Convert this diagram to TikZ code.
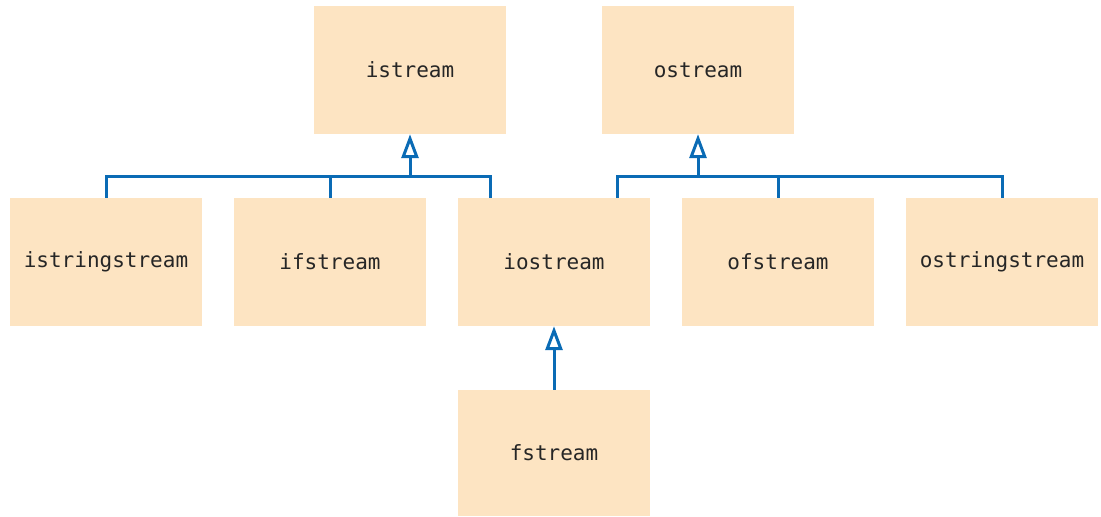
\documentclass[tikz,border=0pt]{standalone}
\usepackage{fontspec}
\setmonofont{DejaVu Sans Mono}
\usetikzlibrary{arrows.meta}
\definecolor{boxfill}{HTML}{FDE4C2}
\definecolor{linkblue}{HTML}{0A6BB5}
\begin{document}
\begin{tikzpicture}[x=1pt,y=-1pt,
  cls/.style={fill=boxfill,draw=none,minimum width=192pt,minimum height=128pt,inner sep=0pt,
    font=\ttfamily\fontsize{21}{24}\selectfont,text=black!85},
  link/.style={draw=linkblue,line width=3pt},
  inherit/.style={link,-{Triangle[open,length=24pt,width=17pt,line width=3pt]}}]
\useasboundingbox (0,0) rectangle (1101,517);
\node[cls] (istream) at (410,70) {istream};
\node[cls] (ostream) at (698,70) {ostream};
\node[cls] (istringstream) at (106,262) {istringstream};
\node[cls] (ifstream) at (330,262) {ifstream};
\node[cls] (iostream) at (554,262) {iostream};
\node[cls] (ofstream) at (778,262) {ofstream};
\node[cls] (ostringstream) at (1002,262) {ostringstream};
\node[cls,minimum height=126pt] (fstream) at (554,453) {fstream};
\coordinate (ij) at (410,176);
\coordinate (oj) at (698,176);
\draw[link] (istringstream.north) |- (ij);
\draw[link] (ifstream.north) |- (ij);
\draw[link] ([xshift=-64pt]iostream.north) |- (ij);
\draw[inherit] (ij) -- (istream.south);
\draw[link] ([xshift=63pt]iostream.north) |- (oj);
\draw[link] (ofstream.north) |- (oj);
\draw[link] (ostringstream.north) |- (oj);
\draw[inherit] (oj) -- (ostream.south);
\draw[inherit] (fstream.north) -- (iostream.south);
\end{tikzpicture}
\end{document}
